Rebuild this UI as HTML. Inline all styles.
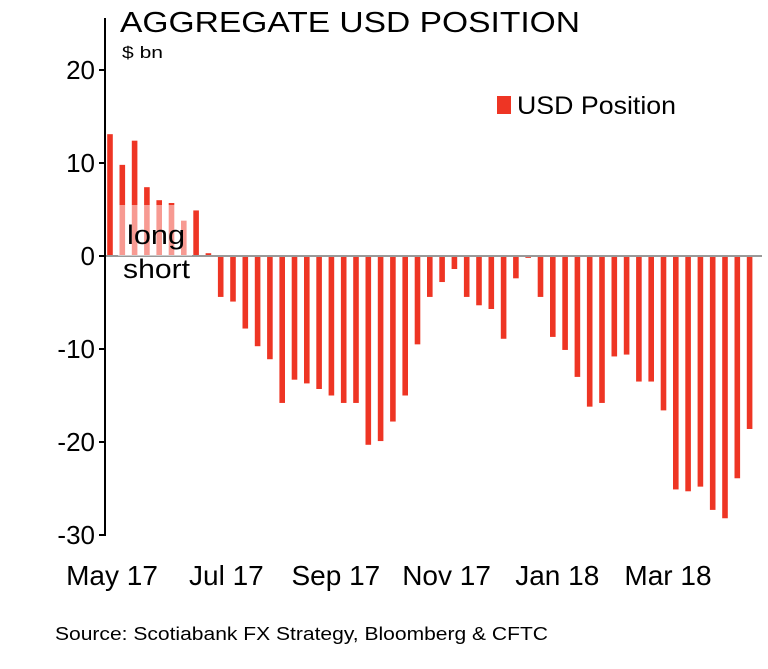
<!DOCTYPE html>
<html><head><meta charset="utf-8"><style>
body{margin:0;background:#fff;}
svg text{font-family:"Liberation Sans",Arial,sans-serif;}
</style></head><body>
<svg width="768" height="664" viewBox="0 0 768 664">
<text x="120" y="32" font-size="29" textLength="460" lengthAdjust="spacingAndGlyphs" fill="#000">AGGREGATE  USD POSITION</text>
<text x="122" y="58" font-size="17" textLength="41" lengthAdjust="spacingAndGlyphs" fill="#000">$ bn</text>
<g id="bars"></g>
<line x1="105" y1="256" x2="762" y2="256" stroke="#999" stroke-width="2"/>
<rect x="118" y="205" width="74" height="51" fill="#fff" opacity="0.5"/>
<text x="127" y="244" font-size="27" textLength="58" lengthAdjust="spacingAndGlyphs" fill="#000">long</text>
<text x="123" y="278" font-size="27" textLength="67" lengthAdjust="spacingAndGlyphs" fill="#000">short</text>
<g id="yaxis"></g>
<g id="xaxis"></g>
<rect x="497" y="96" width="14" height="18" fill="#ee3524"/>
<text x="517" y="114" font-size="25" textLength="159" lengthAdjust="spacingAndGlyphs" fill="#000">USD Position</text>
<text x="55" y="640" font-size="18" textLength="493" lengthAdjust="spacingAndGlyphs" fill="#000">Source: Scotiabank FX Strategy, Bloomberg &amp; CFTC</text>
</svg>
<script>
const values=[13.1,9.8,12.4,7.4,6.0,5.7,3.8,4.9,0.3,-4.4,-4.9,-7.8,-9.7,-11.1,-15.8,-13.3,-13.7,-14.3,-15.0,-15.8,-15.8,-20.3,-19.9,-17.8,-15.0,-9.5,-4.4,-2.8,-1.4,-4.4,-5.3,-5.7,-8.9,-2.4,-0.2,-4.4,-8.7,-10.1,-13.0,-16.2,-15.8,-10.8,-10.6,-13.5,-13.5,-16.6,-25.1,-25.3,-24.8,-27.3,-28.2,-23.9,-18.6];
const yTicks=[20,10,0,-10,-20,-30];
const xLabels=["May 17","Jul 17","Sep 17","Nov 17","Jan 18","Mar 18"];
const xLabelIdx=[0,9.3,18.2,27.2,36.2,45.2];
const NS="http://www.w3.org/2000/svg";
function y(v){return 256-v*9.3;}
function x(i){return 110+i*12.3;}
const bars=document.getElementById('bars');
values.forEach((v,i)=>{const r=document.createElementNS(NS,'rect');
r.setAttribute('x',x(i)-2.8);r.setAttribute('width',5.6);
r.setAttribute('y',Math.min(y(v),256));r.setAttribute('height',Math.abs(y(v)-256));
r.setAttribute('fill','#ee3524');


bars.appendChild(r);});
const ya=document.getElementById('yaxis');
const ax=document.createElementNS(NS,'line');
ax.setAttribute('x1',105);ax.setAttribute('x2',105);ax.setAttribute('y1',18);ax.setAttribute('y2',536);ax.setAttribute('stroke','#000');ax.setAttribute('stroke-width',2);


ya.appendChild(ax);
yTicks.forEach(t=>{const l=document.createElementNS(NS,'line');
l.setAttribute('x1',99);l.setAttribute('x2',105);l.setAttribute('y1',y(t));l.setAttribute('y2',y(t));l.setAttribute('stroke','#000');l.setAttribute('stroke-width',2);


ya.appendChild(l);
const tx=document.createElementNS(NS,'text');
tx.setAttribute('x',95);tx.setAttribute('y',y(t)+9);tx.setAttribute('text-anchor','end');tx.setAttribute('font-size','26');tx.textContent=t;


ya.appendChild(tx);});
const xa=document.getElementById('xaxis');
xLabels.forEach((s,k)=>{const tx=document.createElementNS(NS,'text');
tx.setAttribute('x',x(xLabelIdx[k])+2);tx.setAttribute('y',585);tx.setAttribute('text-anchor','middle');tx.setAttribute('font-size','28');tx.textContent=s;


xa.appendChild(tx);});
</script>
</body></html>
